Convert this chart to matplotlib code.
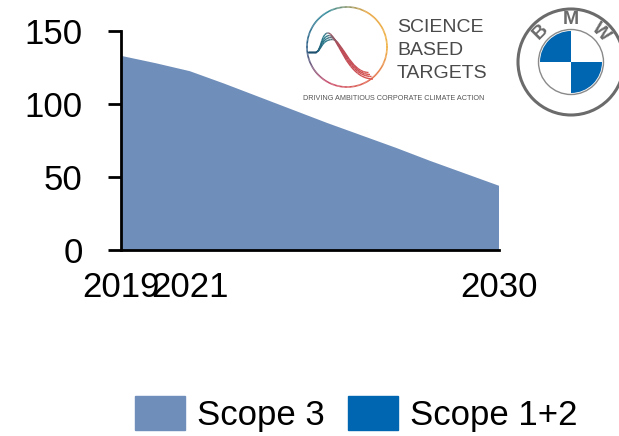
import numpy as np
import matplotlib
matplotlib.use("Agg")
import matplotlib.pyplot as plt
from matplotlib.patches import Circle, Wedge, Patch
from matplotlib.collections import LineCollection
from matplotlib.path import Path

plt.rcParams['font.family'] = ['Liberation Sans', 'DejaVu Sans']

# emissions pathway
years = [2019, 2020, 2021, 2022, 2023, 2024, 2025, 2026, 2027, 2028, 2029, 2030]
scope3 = [133, 128, 122.5, 114, 105, 96, 87, 78.5, 70, 61, 52.5, 44]
scope12 = [0, 0, 0, 0, 0, 0, 0, 0, 0, 0, 0, 0]
xtick_years = [2019, 2021, 2030]
yticks = [0, 50, 100, 150]
series_names = ["Scope 3", "Scope 1+2"]
colors = ["#6f8eba", "#0066b1"]

W, H = 619, 436
fig = plt.figure(figsize=(W / 100, H / 100), dpi=100)

ax = fig.add_axes([121 / W, 1 - 250 / H, (499 - 121) / W, (250 - 31) / H])
ax.stackplot(years, scope12, scope3, colors=[colors[1], colors[0]], linewidth=0)
ax.set_xlim(2019, 2030)
ax.set_ylim(0, 150)
ax.set_xticks(xtick_years)
ax.set_yticks(yticks)
ax.tick_params(axis='x', length=0, pad=15, labelsize=25)
ax.tick_params(axis='y', length=9.5, width=2, pad=18, labelsize=25)
for s in ['top', 'right']:
    ax.spines[s].set_visible(False)
for s in ['left', 'bottom']:
    ax.spines[s].set_linewidth(2)
ax.set_zorder(1)

handles = [Patch(color=c, label=n) for c, n in zip(colors, series_names)]
fig.legend(handles=handles, loc='center', bbox_to_anchor=(356 / W, 1 - 414 / H),
           ncol=2, frameon=False, fontsize=25, handlelength=1.44, handleheight=1.1,
           handletextpad=0.35, columnspacing=0.66, borderpad=0)

# logos drawn in pixel coordinates
lg = fig.add_axes([0, 0, 1, 1])
lg.set_xlim(0, W)
lg.set_ylim(H, 0)
lg.axis('off')
lg.patch.set_alpha(0)
lg.set_zorder(2)

# SBTi ring
cx, cy, r = 347, 47, 40
ring_cmap = matplotlib.colors.LinearSegmentedColormap.from_list(
    'ring', ['#2a5d86', '#2d8a9a', '#e8a33a', '#f0b040', '#e0604a', '#c94a6a', '#2a5d86'])
ang = np.linspace(180, -180, 200)
pts = np.column_stack([cx + r * np.cos(np.radians(ang)), cy - r * np.sin(np.radians(ang))])
segs = np.stack([pts[:-1], pts[1:]], axis=1)
lg.add_collection(LineCollection(segs, colors=ring_cmap(np.linspace(0, 1, len(segs))),
                                 linewidths=1.2))

curve_cmap = matplotlib.colors.LinearSegmentedColormap.from_list(
    'curve', ['#1d4e6e', '#2b7e8e', '#c04a55', '#d9534f'])
for dx, dy in [(0, 0), (1.5, 2.5), (3, 4.5), (4.5, 6.5)]:
    verts = [(308, 52), (316, 52),
             (321, 52), (321, 33 + dy), (328 + dx, 33 + dy),
             (337 + dx, 33 + dy), (346 + dx, 79 - dy), (373 - dx, 79 - dy)]
    codes = [Path.MOVETO, Path.LINETO,
             Path.CURVE4, Path.CURVE4, Path.CURVE4,
             Path.CURVE4, Path.CURVE4, Path.CURVE4]
    p = Path(verts, codes).to_polygons(closed_only=False)[0]
    s2 = np.stack([p[:-1], p[1:]], axis=1)
    lg.add_collection(LineCollection(s2, colors=curve_cmap(np.linspace(0, 1, len(s2))),
                                     linewidths=1.0))

for i, word in enumerate(["SCIENCE", "BASED", "TARGETS"]):
    lg.text(397, 19.5 + i * 22.7, word, fontsize=14, color='#4a4a4a', va='top', ha='left')
lg.text(394, 98, "DRIVING AMBITIOUS CORPORATE CLIMATE ACTION", fontsize=5.2,
        color='#555555', ha='center', va='center')

# BMW roundel
bx, by = 571, 62
lg.add_patch(Circle((bx, by), 53, facecolor='white', edgecolor='#6b6b6b', linewidth=2.2))
lg.add_patch(Circle((bx, by), 32.5, facecolor='white', edgecolor='#8a8a8a', linewidth=1.0))
for a1, a2, c in [(90, 180, '#0066b1'), (0, 90, 'white'), (180, 270, 'white'), (270, 360, '#0066b1')]:
    lg.add_patch(Wedge((bx, by), 31, -a2, -a1, facecolor=c, edgecolor='none'))
for letter, a in [("B", 135), ("M", 90), ("W", 45)]:
    lx = bx + 42.5 * np.cos(np.radians(a))
    ly = by - 42.5 * np.sin(np.radians(a))
    lg.text(lx, ly, letter, fontsize=14, fontweight='bold', color='#6b6b6b',
            ha='center', va='center', rotation=a - 90)

fig.savefig("out.png", dpi=100)
